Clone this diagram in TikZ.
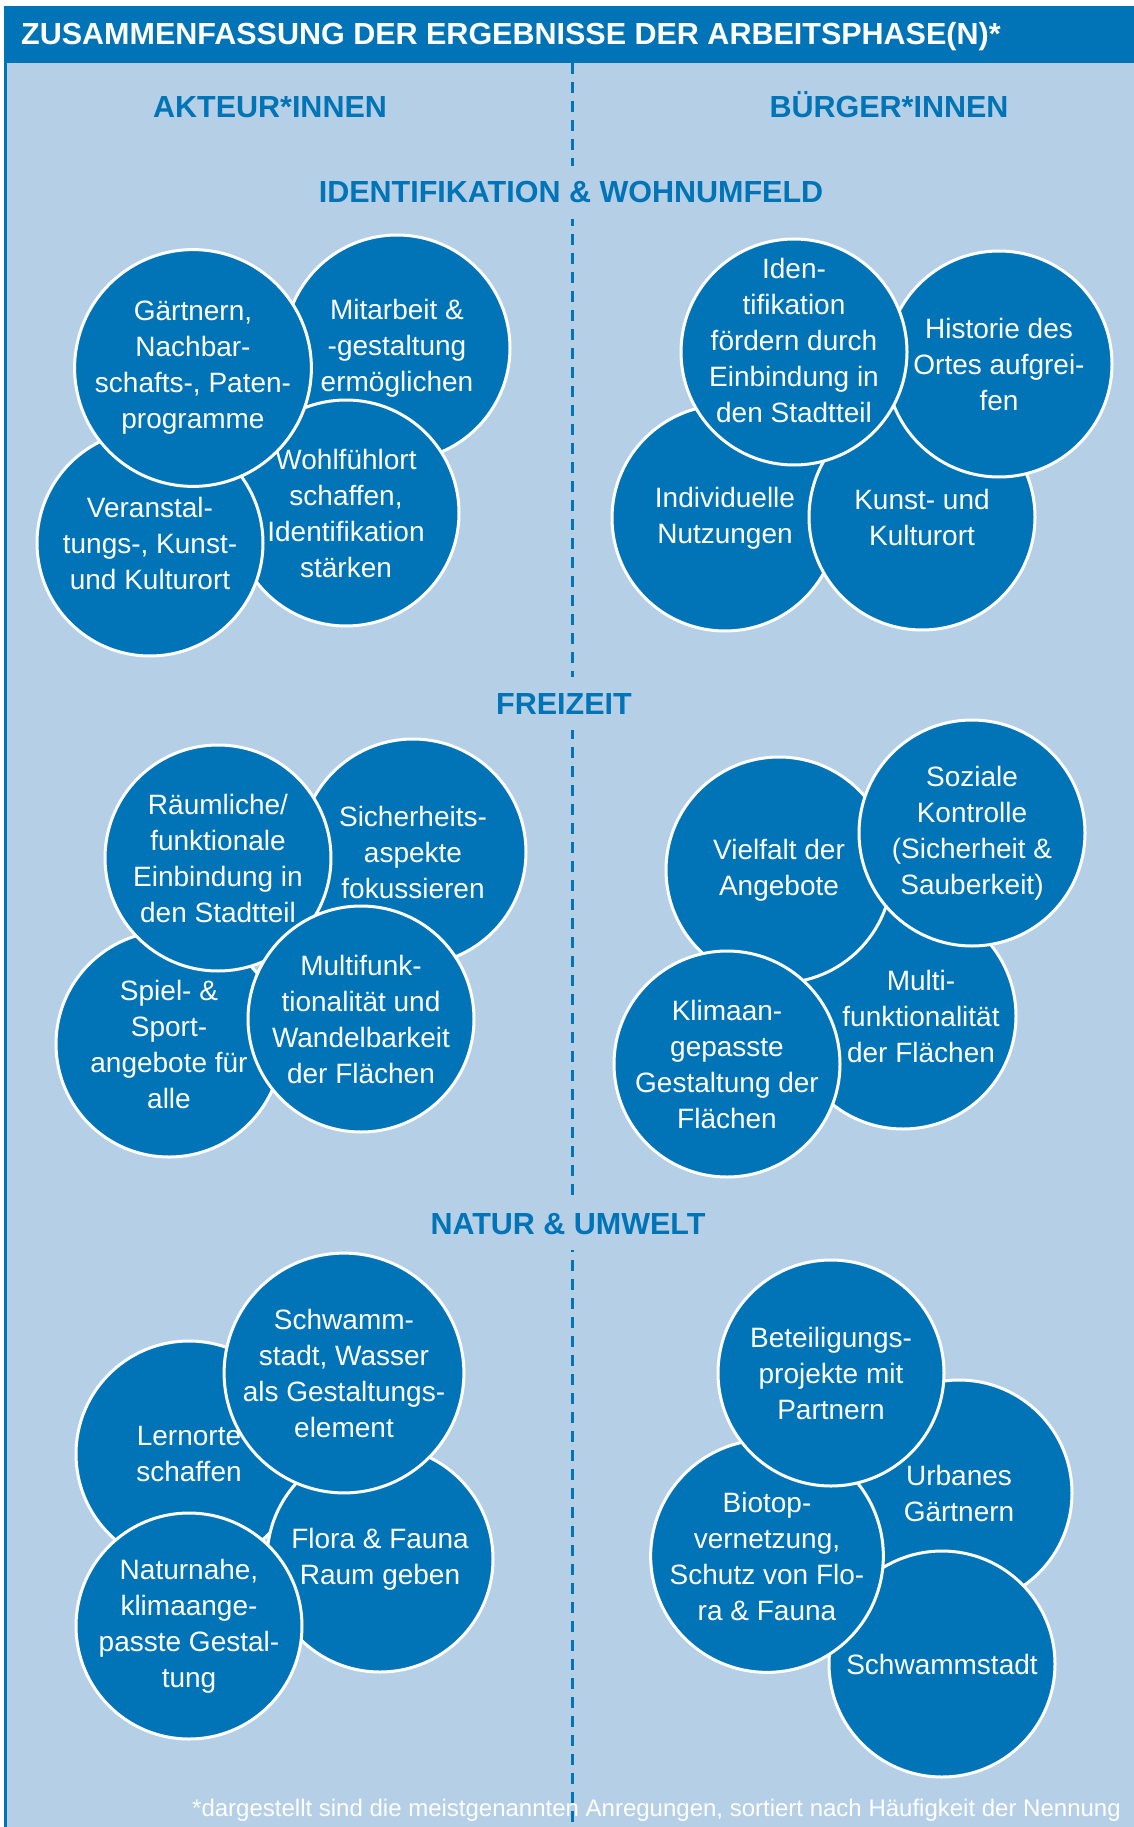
\documentclass[tikz,border=0pt]{standalone}
\usepackage{fontspec}
\setmainfont{Liberation Sans}
\usepackage{xcolor}
\usepackage{tikz}
\usetikzlibrary{positioning}

\definecolor{ideablue}{RGB}{0,116,183}
\definecolor{panelblue}{RGB}{181,207,231}

\begin{document}
\begin{tikzpicture}[
            x=1pt,
            y=-1pt,
            idea/.style={
                    circle,
                    draw=white,
                    line width=3pt,
                    fill=ideablue,
                    text=white,
                    minimum size=226pt,
                    inner sep=0pt,
                    align=center,
                    font=\fontsize{28}{36}\selectfont
                },
            idea text/.style={
                    text=white,
                    inner sep=0pt,
                    align=center,
                    font=\fontsize{28}{36}\selectfont
                },
            column label/.style={
                    anchor=base,
                    text=ideablue,
                    inner sep=0pt,
                    font=\fontsize{30.5}{36}\selectfont\bfseries
                },
            section label/.style={
                    column label,
                    fill=panelblue,
                    inner xsep=10pt,
                    inner ysep=16pt
                },
            divider/.style={
                    draw=ideablue,
                    line width=3pt,
                    dash pattern=on 11pt off 8pt
                }
        ]

        \useasboundingbox (0,0) rectangle (1134,1827);

        % Panel and title bar
        \fill[panelblue] (5,63) rectangle (1134,1827);
        \draw[ideablue, line width=3pt] (5.5,63) -- (5.5,1827);
        \fill[ideablue] (4,6) rectangle (1134,63);
        \node[anchor=base west, inner sep=0pt, text=white, font=\fontsize{30.5}{36}\selectfont\bfseries]
            (title) at (21,45) {ZUSAMMENFASSUNG DER ERGEBNISSE DER ARBEITSPHASE(N)*};

        % Footnote
        \node[anchor=base east, inner sep=0pt, text=white, font=\fontsize{24}{28}\selectfont]
            (note) at (1121,1816) {*dargestellt sind die meistgenannten Anregungen, sortiert nach Häufigkeit der Nennung};

        % Middle divider
        \coordinate (divtop) at (572,63);
        \coordinate (divbot) at (572,1827);
        \draw[divider] (divtop) -- (divbot);

        % Column labels
        \node[column label] (akteure) at (270,118) {AKTEUR*INNEN};
        \node[column label] (buerger) at (889,118) {BÜRGER*INNEN};

        % Section labels
        \node[section label] (wohnumfeld) at (571,203) {IDENTIFIKATION \& WOHNUMFELD};
        \node[section label] (freizeit) at (564,714) {FREIZEIT};
        \node[section label] (umwelt) at (568,1234) {NATUR \& UMWELT};

        % Identifikation & Wohnumfeld
        \node[idea] (mitarbeit) at (397,348) {Mitarbeit \&\\-gestaltung\\ermöglichen};
        \node[idea] (wohlfuehl) at (346,513) {Wohlfühlort\\schaffen,\\Identifikation\\stärken};
        \node[idea] (veranstaltung) at (150,543) {Veranstal-\\tungs-, Kunst-\\und Kulturort};
        \node[idea] (gaertnern) at (193,368) {Gärtnern,\\Nachbar-\\schafts-, Paten-\\programme};

        \node[idea] (individuell) at (725,518) {Individuelle\\Nutzungen};
        \node[idea] (kunst) at (922,517) {Kunst- und\\Kulturort};
        \node[idea] (historie) at (999,364) {Historie des\\Ortes aufgrei-\\fen};
        \node[idea, label={[idea text, yshift=12pt]center:Iden-\\tifikation\\fördern durch\\Einbindung in\\den Stadtteil}]
            (identifikation) at (794,352) {};

        % Freizeit
        \node[idea] (sicherheit) at (413,852) {Sicherheits-\\aspekte\\fokussieren};
        \node[idea] (spiel) at (169,1044) {Spiel- \&\\Sport-\\angebote für\\alle};
        \node[idea] (raeumlich) at (218,858) {Räumliche/\\funktionale\\Einbindung in\\den Stadtteil};
        \node[idea] (multifunk) at (361,1019) {Multifunk-\\tionalität und\\Wandelbarkeit\\der Flächen};

        \node[idea, label={[idea text, xshift=18pt]center:Multi-\\funktionalität\\der Flächen}]
            (multi) at (903,1016) {};
        \node[idea] (vielfalt) at (779,870) {Vielfalt der\\Angebote};
        \node[idea] (sozial) at (972,833) {Soziale\\Kontrolle\\(Sicherheit \&\\Sauberkeit)};
        \node[idea] (klima) at (727,1064) {Klimaan-\\gepasste\\Gestaltung der\\Flächen};

        % Natur & Umwelt
        \node[idea] (lernorte) at (189,1454) {Lernorte\\schaffen};
        \node[idea] (flora) at (380,1559) {Flora \& Fauna\\Raum geben};
        \node[idea] (schwamm) at (344,1373) {Schwamm-\\stadt, Wasser\\als Gestaltungs-\\element};
        \node[idea] (naturnahe) at (189,1626) {Naturnahe,\\klimaange-\\passte Gestal-\\tung};

        \node[idea] (urban) at (959,1493) {Urbanes\\Gärtnern};
        \node[idea] (schwammstadt) at (942,1664) {Schwammstadt};
        \node[idea] (biotop) at (767,1556) {Biotop-\\vernetzung,\\Schutz von Flo-\\ra \& Fauna};
        \node[idea] (beteiligung) at (831,1373) {Beteiligungs-\\projekte mit\\Partnern};

    \end{tikzpicture}
\end{document}
